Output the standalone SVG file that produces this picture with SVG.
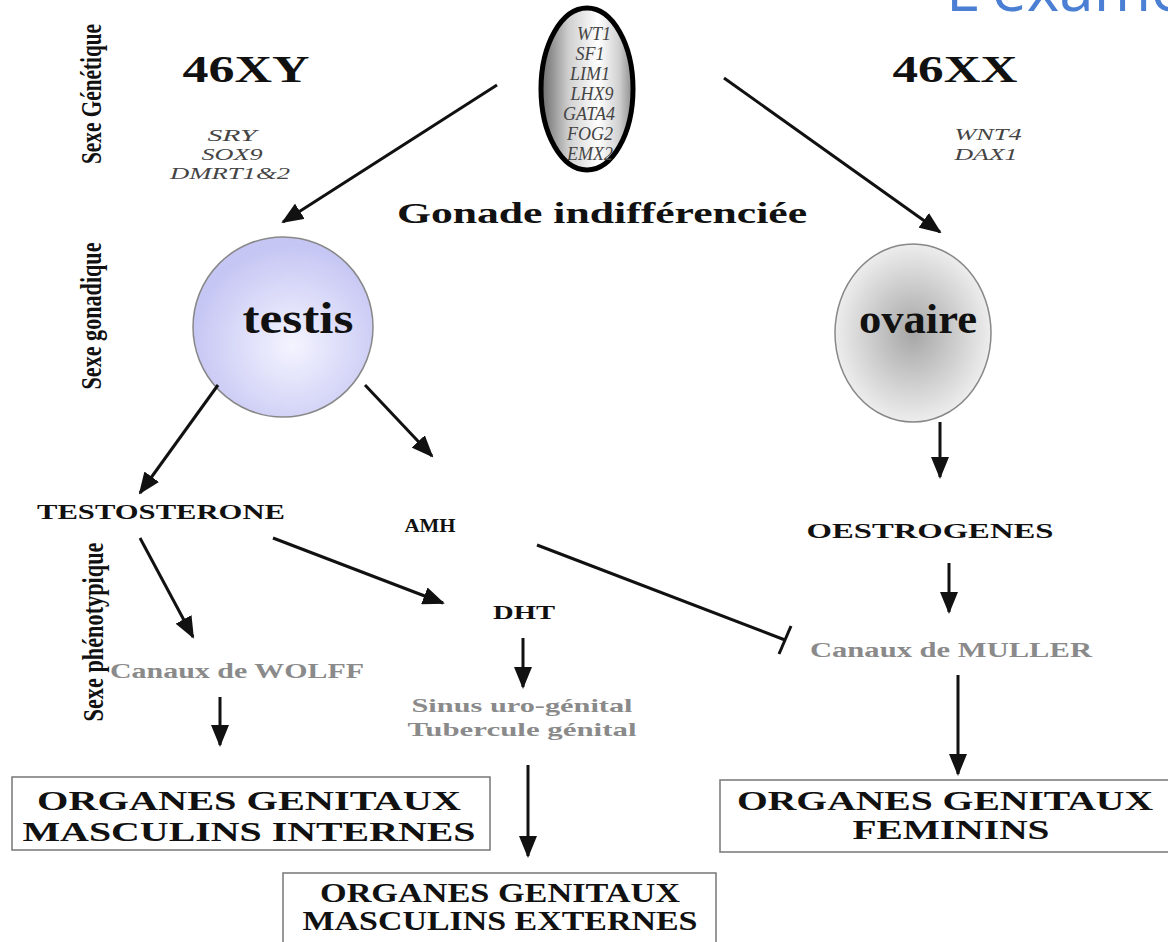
<svg xmlns="http://www.w3.org/2000/svg" width="1168" height="942" viewBox="0 0 1168 942">
<style>
.b{font-family:"Liberation Serif","Times New Roman",serif;font-weight:bold;fill:#111}
.g{font-family:"Liberation Serif","Times New Roman",serif;font-weight:bold;fill:#8a8a8a}
.i{font-family:"Liberation Serif","Times New Roman",serif;font-style:italic;fill:#444}
.v{font-family:"Liberation Serif","Times New Roman",serif;font-weight:bold;fill:#111}
.ln{stroke:#111;stroke-width:3;fill:none}
.box{fill:#fff;stroke:#777;stroke-width:1.5}
</style>
<defs>
<marker id="ah" markerUnits="userSpaceOnUse" viewBox="0 0 22 18" markerWidth="22" markerHeight="18" refX="20" refY="9" orient="auto">
<path d="M0,0 L22,9 L0,18 z" fill="#111"/>
</marker>
<linearGradient id="eg" x1="0" y1="0" x2="1" y2="0">
<stop offset="0" stop-color="#6a6a6a"/>
<stop offset="0.3" stop-color="#cfcfcf"/>
<stop offset="0.62" stop-color="#ffffff"/>
<stop offset="0.85" stop-color="#d0d0d0"/>
<stop offset="1" stop-color="#8a8a8a"/>
</linearGradient>
<radialGradient id="tg" cx="0.55" cy="0.6" r="0.55">
<stop offset="0" stop-color="#f4f4ff"/>
<stop offset="1" stop-color="#c6c6f4"/>
</radialGradient>
<radialGradient id="og" cx="0.5" cy="0.5" r="0.55">
<stop offset="0" stop-color="#a6a6a6"/>
<stop offset="1" stop-color="#f4f4f4"/>
</radialGradient>
</defs>
<rect width="1168" height="942" fill="#fff"/>
<text x="946" y="11" font-family="'Open Sans','Liberation Sans',sans-serif" font-size="62" fill="#4a7fd4">L'examen</text>
<g id="labels">
<text class="v" font-size="30" text-anchor="middle" transform="translate(101,94) rotate(-90)" textLength="140" lengthAdjust="spacingAndGlyphs">Sexe Génétique</text>
<text class="v" font-size="30" text-anchor="middle" transform="translate(101,316) rotate(-90)" textLength="147" lengthAdjust="spacingAndGlyphs">Sexe gonadique</text>
<text class="v" font-size="30" text-anchor="middle" transform="translate(103,632) rotate(-90)" textLength="179" lengthAdjust="spacingAndGlyphs">Sexe phénotypique</text>
</g>
<g id="xy">
<text class="b" x="246" y="82" font-size="37" text-anchor="middle" textLength="127" lengthAdjust="spacingAndGlyphs">46XY</text>
<text class="i" font-size="17" text-anchor="middle"><tspan x="232" y="141" textLength="49" lengthAdjust="spacingAndGlyphs">SRY</tspan><tspan x="232" y="160" textLength="61" lengthAdjust="spacingAndGlyphs">SOX9</tspan><tspan x="230" y="179" textLength="120" lengthAdjust="spacingAndGlyphs">DMRT1&amp;2</tspan></text>
</g>
<g id="xx">
<text class="b" x="955" y="82" font-size="37" text-anchor="middle" textLength="125" lengthAdjust="spacingAndGlyphs">46XX</text>
<text class="i" font-size="16" text-anchor="middle"><tspan x="988" y="140" textLength="67" lengthAdjust="spacingAndGlyphs">WNT4</tspan><tspan x="986" y="160" textLength="63" lengthAdjust="spacingAndGlyphs">DAX1</tspan></text>
</g>
<g id="genes">
<ellipse cx="587" cy="89" rx="46" ry="81" fill="url(#eg)" stroke="#000" stroke-width="5"/>
<text class="i" font-size="18" text-anchor="middle" fill="#3a3a3a"><tspan x="594" y="40">WT1</tspan><tspan x="590" y="60">SF1</tspan><tspan x="590" y="80">LIM1</tspan><tspan x="592" y="100">LHX9</tspan><tspan x="589" y="120">GATA4</tspan><tspan x="590" y="140">FOG2</tspan><tspan x="590" y="160">EMX2</tspan></text>
</g>
<g id="gonade">
<text class="b" x="602" y="223" font-size="29" text-anchor="middle" textLength="410" lengthAdjust="spacingAndGlyphs">Gonade indifférenciée</text>
</g>
<g id="testis">
<circle cx="283" cy="327" r="90" fill="url(#tg)" stroke="#888" stroke-width="1.5"/>
<text class="b" x="298" y="333" font-size="44" text-anchor="middle" textLength="111" lengthAdjust="spacingAndGlyphs">testis</text>
</g>
<g id="ovaire">
<ellipse cx="913" cy="333" rx="78" ry="89" fill="url(#og)" stroke="#888" stroke-width="1.5"/>
<text class="b" x="918" y="333" font-size="42" text-anchor="middle" textLength="118" lengthAdjust="spacingAndGlyphs">ovaire</text>
</g>
<g id="testosterone"><text class="b" x="161" y="519" font-size="21" text-anchor="middle" textLength="248" lengthAdjust="spacingAndGlyphs">TESTOSTERONE</text></g>
<g id="amh"><text class="b" x="430" y="532" font-size="19" text-anchor="middle" textLength="51" lengthAdjust="spacingAndGlyphs">AMH</text></g>
<g id="oestrogenes"><text class="b" x="930" y="538" font-size="20" text-anchor="middle" textLength="247" lengthAdjust="spacingAndGlyphs">OESTROGENES</text></g>
<g id="dht"><text class="b" x="524" y="619" font-size="19" text-anchor="middle" textLength="62" lengthAdjust="spacingAndGlyphs">DHT</text></g>
<g id="wolff"><text class="g" x="237" y="678" font-size="20" text-anchor="middle" textLength="254" lengthAdjust="spacingAndGlyphs">Canaux de WOLFF</text></g>
<g id="muller"><text class="g" x="951" y="657" font-size="20" text-anchor="middle" textLength="282" lengthAdjust="spacingAndGlyphs">Canaux de MULLER</text></g>
<g id="sinus"><text class="g" font-size="19" text-anchor="middle"><tspan x="522" y="712" textLength="221" lengthAdjust="spacingAndGlyphs">Sinus uro-génital</tspan><tspan x="522" y="736" textLength="229" lengthAdjust="spacingAndGlyphs">Tubercule génital</tspan></text></g>
<g id="ogmi">
<rect class="box" x="12" y="777" width="478" height="73"/>
<text class="b" font-size="27" text-anchor="middle"><tspan x="249" y="810" textLength="424" lengthAdjust="spacingAndGlyphs">ORGANES GENITAUX</tspan><tspan x="249" y="841" textLength="453" lengthAdjust="spacingAndGlyphs">MASCULINS INTERNES</tspan></text>
</g>
<g id="ogf">
<rect class="box" x="720" y="780" width="460" height="72"/>
<text class="b" font-size="27" text-anchor="middle"><tspan x="945" y="810" textLength="416" lengthAdjust="spacingAndGlyphs">ORGANES GENITAUX</tspan><tspan x="951" y="839" textLength="197" lengthAdjust="spacingAndGlyphs">FEMININS</tspan></text>
</g>
<g id="ogme">
<rect class="box" x="283" y="873" width="433" height="80"/>
<text class="b" font-size="27" text-anchor="middle"><tspan x="500" y="902" textLength="360" lengthAdjust="spacingAndGlyphs">ORGANES GENITAUX</tspan><tspan x="500" y="930" textLength="395" lengthAdjust="spacingAndGlyphs">MASCULINS EXTERNES</tspan></text>
</g>
<g id="connectors">
<line class="ln" x1="497" y1="85" x2="283" y2="222" marker-end="url(#ah)"/>
<line class="ln" x1="724" y1="78" x2="940" y2="232" marker-end="url(#ah)"/>
<line class="ln" x1="218" y1="385" x2="140" y2="493" marker-end="url(#ah)"/>
<line class="ln" x1="365" y1="385" x2="432" y2="456" marker-end="url(#ah)"/>
<line class="ln" x1="940" y1="422" x2="940" y2="477" marker-end="url(#ah)"/>
<line class="ln" x1="140" y1="538" x2="193" y2="637" marker-end="url(#ah)"/>
<line class="ln" x1="273" y1="538" x2="443" y2="603" marker-end="url(#ah)"/>
<line class="ln" x1="537" y1="545" x2="785" y2="640"/>
<line class="ln" x1="791" y1="626" x2="779" y2="654"/>
<line class="ln" x1="523" y1="638" x2="523" y2="687" marker-end="url(#ah)"/>
<line class="ln" x1="220" y1="697" x2="220" y2="745" marker-end="url(#ah)"/>
<line class="ln" x1="949" y1="563" x2="949" y2="612" marker-end="url(#ah)"/>
<line class="ln" x1="958" y1="675" x2="958" y2="774" marker-end="url(#ah)"/>
<line class="ln" x1="528" y1="765" x2="528" y2="856" marker-end="url(#ah)"/>
</g>
</svg>
